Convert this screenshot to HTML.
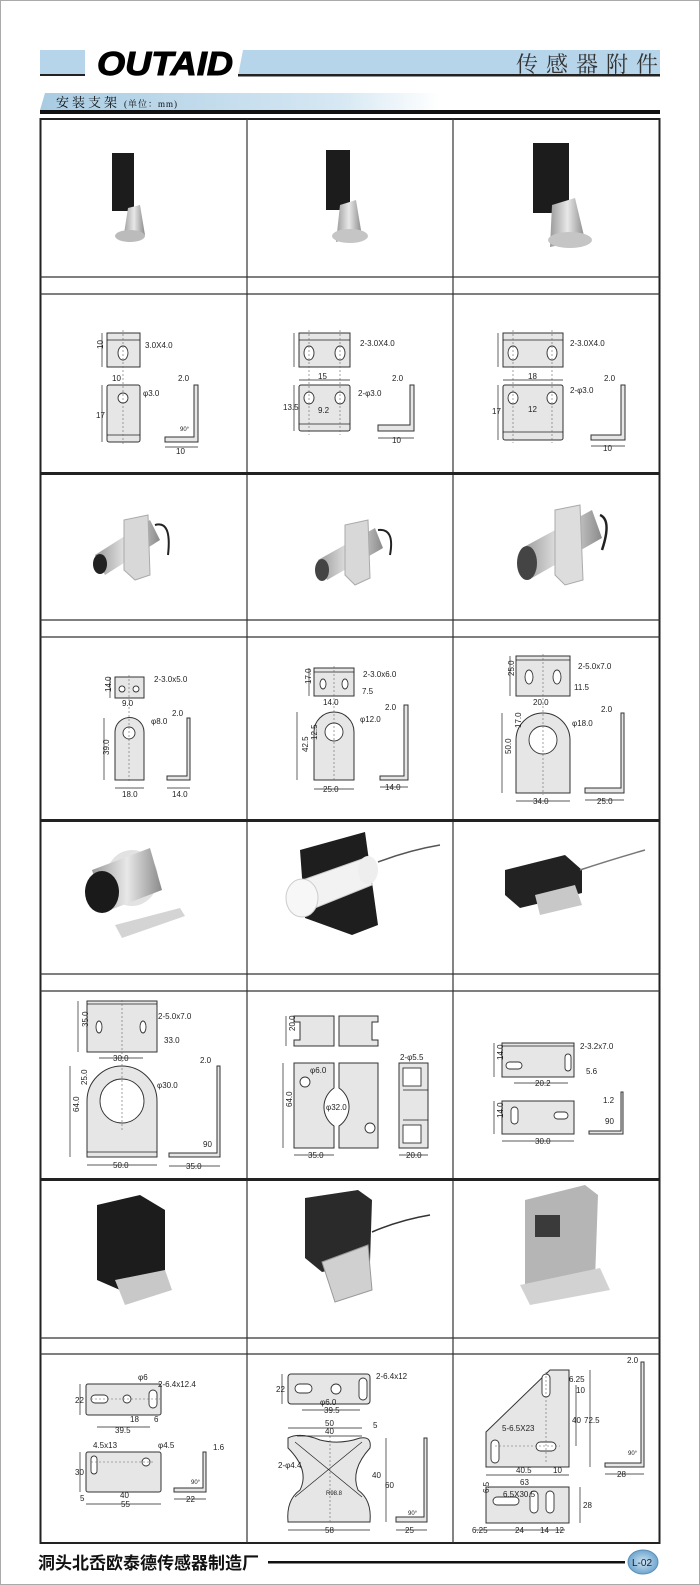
<!DOCTYPE html>
<html><head><meta charset="utf-8"><style>
html,body{margin:0;padding:0;background:#fff;}
svg{display:block}
text{font-family:"Liberation Sans","Noto Sans CJK SC",sans-serif;fill:#222}
.l{font-size:8px}
.p{fill:#e6e6e6;stroke:#333;stroke-width:1}
.h{fill:#fff;stroke:#333;stroke-width:0.9}
.d{stroke:#666;stroke-width:0.6;stroke-dasharray:2 2;fill:none}
.k{stroke:#222;stroke-width:0.7;fill:none}
.s{fill:#bfbfbf}
.b{fill:#1c1c1c}
</style></head><body>
<svg width="700" height="1585" viewBox="0 0 700 1585" xmlns="http://www.w3.org/2000/svg">
<defs>
<linearGradient id="sec" x1="0" x2="1"><stop offset="0" stop-color="#a9cce3"/><stop offset="0.75" stop-color="#d6e8f3"/><stop offset="1" stop-color="#fff"/></linearGradient>
<linearGradient id="met" x1="0" x2="1"><stop offset="0" stop-color="#9a9a9a"/><stop offset="0.5" stop-color="#e8e8e8"/><stop offset="1" stop-color="#8a8a8a"/></linearGradient>
<radialGradient id="bd"><stop offset="0" stop-color="#cfe3f2"/><stop offset="1" stop-color="#6fa6cf"/></radialGradient>
</defs>
<rect x="0.5" y="0.5" width="699" height="1584" fill="#fff" stroke="#aaa"/>
<!-- header -->
<rect x="40" y="50" width="45" height="26" fill="#b7d5ea"/>
<rect x="40" y="74" width="45" height="2" fill="#222"/>
<polygon points="243,50 660,50 660,76 238,76" fill="#b7d5ea"/>
<rect x="238" y="74" width="422" height="2.5" fill="#222"/>
<text x="97" y="75" textLength="136" lengthAdjust="spacingAndGlyphs" style="font-size:33px;font-weight:bold;font-style:italic;fill:#000;stroke:#000;stroke-width:1">OUTAID</text>
<text x="516" y="72" style="font-size:22px;fill:#333;letter-spacing:8px;font-family:'Liberation Serif','Noto Serif CJK SC',serif">传感器附件</text>
<polygon points="45,93 440,93 440,110 40,110" fill="url(#sec)"/>
<text x="56" y="107" style="font-size:13px;font-family:'Liberation Serif','Noto Serif CJK SC',serif;fill:#111;letter-spacing:3px">安装支架</text>
<text x="124" y="107" style="font-size:9px;font-family:'Liberation Serif','Noto Serif CJK SC',serif;fill:#111;letter-spacing:1px">(单位：mm)</text>
<rect x="40" y="110" width="620" height="4" fill="#111"/>
<!-- table -->
<rect x="40.5" y="119" width="619" height="1424" fill="none" stroke="#222" stroke-width="2"/>
<g stroke="#333" stroke-width="1.2">
<line x1="247" y1="119" x2="247" y2="1543"/><line x1="453" y1="119" x2="453" y2="1543"/>
<line x1="40" y1="277" x2="660" y2="277"/><line x1="40" y1="294" x2="660" y2="294"/>
<line x1="40" y1="620" x2="660" y2="620"/><line x1="40" y1="637" x2="660" y2="637"/>
<line x1="40" y1="974" x2="660" y2="974"/><line x1="40" y1="991" x2="660" y2="991"/>
<line x1="40" y1="1338" x2="660" y2="1338"/><line x1="40" y1="1354" x2="660" y2="1354"/>
</g>
<g fill="#222"><rect x="40" y="472" width="620" height="3"/><rect x="40" y="819" width="620" height="3"/><rect x="40" y="1178" width="620" height="3"/></g>

<!-- photos row 1 -->
<rect x="112" y="153" width="22" height="58" class="b"/><polygon points="128,208 140,205 145,235 123,240" fill="url(#met)"/><ellipse cx="130" cy="236" rx="15" ry="6" fill="#bbb"/>
<rect x="326" y="150" width="24" height="60" class="b"/><polygon points="340,205 356,200 362,236 336,242" fill="url(#met)"/><ellipse cx="350" cy="236" rx="18" ry="7" fill="#c5c5c5"/>
<rect x="533" y="143" width="36" height="70" class="b"/><polygon points="552,205 575,198 585,240 550,247" fill="url(#met)"/><ellipse cx="570" cy="240" rx="22" ry="8" fill="#c5c5c5"/>
<!-- photos row 2 -->
<g><polygon points="95,555 150,520 160,540 105,575" fill="url(#met)"/><ellipse cx="100" cy="564" rx="7" ry="10" fill="#222"/><polygon points="124,520 148,515 150,575 135,580 124,570" fill="#d8d8d8" stroke="#aaa"/><path d="M155,525 Q172,520 168,555" stroke="#222" stroke-width="2" fill="none"/></g>
<g><polygon points="318,560 375,528 383,548 327,580" fill="url(#met)"/><ellipse cx="322" cy="570" rx="7" ry="11" fill="#444"/><polygon points="345,525 368,520 370,578 355,585 345,575" fill="#d8d8d8" stroke="#aaa"/><path d="M378,530 Q395,528 390,555" stroke="#222" stroke-width="2" fill="none"/></g>
<g><polygon points="522,548 592,510 602,538 532,578" fill="url(#met)"/><ellipse cx="527" cy="563" rx="10" ry="17" fill="#444"/><polygon points="555,510 580,505 583,580 565,585 555,575" fill="#ddd" stroke="#aaa"/><path d="M600,515 Q612,520 602,550" stroke="#222" stroke-width="2.5" fill="none"/></g>
<!-- photos row 3 -->
<g><ellipse cx="132" cy="878" rx="26" ry="28" fill="#e2e2e2"/><polygon points="92,870 150,848 162,890 105,912" fill="url(#met)"/><ellipse cx="102" cy="892" rx="17" ry="21" fill="#1a1a1a"/><polygon points="115,925 180,908 185,916 122,938" fill="#d4d4d4"/></g>
<g><polygon points="300,850 365,832 378,925 352,935 305,918" fill="#1e1e1e"/><polygon points="297,882 365,858 372,885 305,912" fill="#f2f2f2" stroke="#ccc"/><ellipse cx="302" cy="898" rx="16" ry="19" fill="#f7f7f7" stroke="#ccc"/><ellipse cx="368" cy="870" rx="10" ry="14" fill="#eee"/><path d="M378,862 Q410,850 440,845" stroke="#555" stroke-width="1.5" fill="none"/></g>
<g><polygon points="505,870 565,855 582,870 582,893 520,908 505,895" fill="#222"/><polygon points="535,895 575,885 582,905 540,915" fill="#c8c8c8"/><path d="M580,870 Q610,860 645,850" stroke="#777" stroke-width="1.5" fill="none"/></g>
<!-- photos row 4 -->
<g><polygon points="97,1205 140,1195 165,1210 165,1275 120,1290 97,1280" fill="#1c1c1c"/><polygon points="115,1280 165,1270 172,1290 125,1305" fill="#c8c8c8"/></g>
<g><polygon points="305,1198 358,1190 372,1200 370,1262 322,1272 305,1258" fill="#2a2a2a"/><polygon points="322,1262 368,1245 372,1290 335,1302" fill="#d0d0d0" stroke="#999"/><path d="M372,1232 Q400,1220 430,1215" stroke="#333" stroke-width="1.5" fill="none"/></g>
<g><polygon points="525,1200 585,1185 598,1195 595,1280 540,1295 525,1285" fill="#b5b5b5"/><rect x="535" y="1215" width="25" height="22" fill="#3a3a3a"/><polygon points="520,1285 600,1268 610,1290 530,1305" fill="#d2d2d2"/></g>

<!-- drawing row 1 -->
<g>
<rect x="107" y="333" width="33" height="34" class="p"/><line x1="107" y1="340" x2="140" y2="340" class="k"/><ellipse cx="123" cy="353" rx="5" ry="7" class="h"/>
<rect x="107" y="385" width="33" height="57" rx="2" class="p"/><line x1="107" y1="435" x2="140" y2="435" class="k"/><ellipse cx="123" cy="398" rx="5" ry="5" class="h"/>
<line x1="123" y1="330" x2="123" y2="445" class="d"/>
<path d="M194,385 h4 v57 h-33 v-5 h29 z" class="p"/>
<text x="145" y="348" class="l">3.0X4.0</text><text x="112" y="381" class="l">10</text><text x="143" y="396" class="l">φ3.0</text>
<text x="96" y="418" class="l">17</text><text x="178" y="381" class="l">2.0</text><text x="176" y="454" class="l">10</text><text x="180" y="431" class="l" style="font-size:6px">90°</text>
<text x="104" y="354" class="l" transform="rotate(-90 101 352)">10</text>
<line x1="102" y1="333" x2="102" y2="367" class="k"/><line x1="102" y1="385" x2="102" y2="442" class="k"/><line x1="165" y1="447" x2="198" y2="447" class="k"/>
</g>
<g>
<rect x="299" y="333" width="51" height="34" class="p"/><line x1="299" y1="340" x2="350" y2="340" class="k"/><ellipse cx="309" cy="353" rx="5" ry="7" class="h"/><ellipse cx="340" cy="353" rx="5" ry="7" class="h"/>
<rect x="299" y="385" width="51" height="46" rx="2" class="p"/><line x1="299" y1="424" x2="350" y2="424" class="k"/><ellipse cx="309" cy="398" rx="5" ry="6" class="h"/><ellipse cx="340" cy="398" rx="5" ry="6" class="h"/>
<line x1="309" y1="330" x2="309" y2="435" class="d"/><line x1="340" y1="330" x2="340" y2="435" class="d"/>
<path d="M410,385 h4 v46 h-36 v-6 h32 z" class="p"/>
<line x1="294" y1="333" x2="294" y2="367" class="k"/><line x1="294" y1="385" x2="294" y2="431" class="k"/><line x1="299" y1="380" x2="350" y2="380" class="k"/><line x1="378" y1="438" x2="414" y2="438" class="k"/>
<text x="360" y="346" class="l">2-3.0X4.0</text><text x="318" y="379" class="l">15</text><text x="358" y="396" class="l">2-φ3.0</text>
<text x="283" y="410" class="l">13.5</text><text x="318" y="413" class="l">9.2</text><text x="392" y="381" class="l">2.0</text><text x="392" y="443" class="l">10</text>
</g>
<g>
<rect x="503" y="333" width="60" height="34" class="p"/><line x1="503" y1="340" x2="563" y2="340" class="k"/><ellipse cx="513" cy="353" rx="5" ry="7" class="h"/><ellipse cx="552" cy="353" rx="5" ry="7" class="h"/>
<rect x="503" y="385" width="60" height="55" rx="2" class="p"/><line x1="503" y1="432" x2="563" y2="432" class="k"/><ellipse cx="513" cy="398" rx="5" ry="6" class="h"/><ellipse cx="552" cy="398" rx="5" ry="6" class="h"/>
<line x1="513" y1="330" x2="513" y2="443" class="d"/><line x1="552" y1="330" x2="552" y2="443" class="d"/>
<path d="M621,385 h4 v55 h-34 v-5 h30 z" class="p"/>
<line x1="498" y1="333" x2="498" y2="367" class="k"/><line x1="498" y1="385" x2="498" y2="440" class="k"/><line x1="503" y1="380" x2="563" y2="380" class="k"/><line x1="591" y1="446" x2="625" y2="446" class="k"/>
<text x="570" y="346" class="l">2-3.0X4.0</text><text x="528" y="379" class="l">18</text><text x="570" y="393" class="l">2-φ3.0</text>
<text x="492" y="414" class="l">17</text><text x="528" y="412" class="l">12</text><text x="604" y="381" class="l">2.0</text><text x="603" y="451" class="l">10</text>
</g>

<!-- drawing row 2 -->
<g>
<rect x="115" y="677" width="29" height="21" class="p"/><circle cx="122" cy="689" r="3" class="h"/><circle cx="136" cy="689" r="3" class="h"/>
<path d="M115,780 V732 a14.5,14.5 0 0 1 29,0 V780 z" class="p"/><circle cx="129" cy="733" r="6" class="h"/><line x1="129" y1="675" x2="129" y2="782" class="d"/>
<path d="M187,718 h3 v62 h-23 v-4 h20 z" class="p"/>
<line x1="110" y1="677" x2="110" y2="698" class="k"/><line x1="104" y1="718" x2="104" y2="780" class="k"/><line x1="115" y1="788" x2="144" y2="788" class="k"/><line x1="167" y1="788" x2="190" y2="788" class="k"/>
<text x="154" y="682" class="l">2-3.0x5.0</text><text x="122" y="706" class="l">9.0</text><text x="151" y="724" class="l">φ8.0</text>
<text x="122" y="797" class="l">18.0</text><text x="172" y="716" class="l">2.0</text><text x="172" y="797" class="l">14.0</text>
<text x="107" y="696" class="l" transform="rotate(-90 107 692)">14.0</text><text x="104" y="760" class="l" transform="rotate(-90 104 755)">39.0</text>
</g>
<g>
<rect x="314" y="668" width="40" height="28" class="p"/><line x1="314" y1="672" x2="354" y2="672" class="k"/><ellipse cx="323" cy="684" rx="3" ry="5" class="h"/><ellipse cx="345" cy="684" rx="3" ry="5" class="h"/>
<path d="M314,780 V732 a20,20 0 0 1 40,0 V780 z" class="p"/><circle cx="334" cy="732" r="9" class="h"/><line x1="334" y1="666" x2="334" y2="782" class="d"/>
<path d="M404,705 h4 v75 h-28 v-4 h24 z" class="p"/>
<line x1="297" y1="712" x2="297" y2="780" class="k"/><line x1="309" y1="668" x2="309" y2="696" class="k"/><line x1="314" y1="789" x2="354" y2="789" class="k"/><line x1="380" y1="787" x2="408" y2="787" class="k"/>
<text x="363" y="677" class="l">2-3.0x6.0</text><text x="362" y="694" class="l">7.5</text><text x="323" y="705" class="l">14.0</text>
<text x="360" y="722" class="l">φ12.0</text><text x="323" y="792" class="l">25.0</text><text x="385" y="710" class="l">2.0</text><text x="385" y="790" class="l">14.0</text>
<text x="300" y="760" class="l" transform="rotate(-90 300 752)">42.5</text><text x="312" y="745" class="l" transform="rotate(-90 312 740)">12.5</text>
<text x="305" y="690" class="l" transform="rotate(-90 305 684)">17.0</text>
</g>
<g>
<rect x="516" y="656" width="54" height="40" class="p"/><line x1="516" y1="660" x2="570" y2="660" class="k"/><ellipse cx="529" cy="677" rx="4" ry="7" class="h"/><ellipse cx="557" cy="677" rx="4" ry="7" class="h"/>
<path d="M516,793 V740 a27,27 0 0 1 54,0 V793 z" class="p"/><circle cx="543" cy="740" r="14" class="h"/><line x1="543" y1="654" x2="543" y2="795" class="d"/>
<path d="M621,713 h3 v80 h-39 v-5 h36 z" class="p"/>
<line x1="510" y1="656" x2="510" y2="696" class="k"/><line x1="502" y1="713" x2="502" y2="793" class="k"/><line x1="516" y1="801" x2="570" y2="801" class="k"/><line x1="585" y1="800" x2="624" y2="800" class="k"/>
<text x="578" y="669" class="l">2-5.0x7.0</text><text x="574" y="690" class="l">11.5</text><text x="533" y="705" class="l">20.0</text>
<text x="572" y="726" class="l">φ18.0</text><text x="533" y="804" class="l">34.0</text><text x="601" y="712" class="l">2.0</text><text x="597" y="804" class="l">25.0</text>
<text x="508" y="682" class="l" transform="rotate(-90 508 676)">25.0</text><text x="515" y="734" class="l" transform="rotate(-90 515 728)">17.0</text><text x="505" y="760" class="l" transform="rotate(-90 505 754)">50.0</text>
</g>

<!-- drawing row 3 -->
<g>
<rect x="87" y="1001" width="70" height="51" class="p"/><line x1="87" y1="1004" x2="157" y2="1004" class="k"/><ellipse cx="99" cy="1027" rx="3" ry="6" class="h"/><ellipse cx="143" cy="1027" rx="3" ry="6" class="h"/>
<path d="M87,1157 V1101 a35,35 0 0 1 70,0 V1157 z" class="p"/><circle cx="122" cy="1101" r="22" class="h"/><line x1="87" y1="1152" x2="157" y2="1152" class="k"/><line x1="122" y1="1000" x2="122" y2="1130" class="d"/>
<path d="M217,1066 h3 v91 h-51 v-4 h48 z" class="p"/>
<line x1="78" y1="1001" x2="78" y2="1052" class="k"/><line x1="70" y1="1066" x2="70" y2="1157" class="k"/><line x1="87" y1="1165" x2="157" y2="1165" class="k"/><line x1="169" y1="1166" x2="220" y2="1166" class="k"/><line x1="99" y1="1058" x2="143" y2="1058" class="k"/>
<text x="158" y="1019" class="l">2-5.0x7.0</text><text x="164" y="1043" class="l">33.0</text><text x="113" y="1061" class="l">30.0</text>
<text x="200" y="1063" class="l">2.0</text><text x="157" y="1088" class="l">φ30.0</text><text x="203" y="1147" class="l">90</text><text x="113" y="1168" class="l">50.0</text><text x="186" y="1169" class="l">35.0</text>
<text x="82" y="1033" class="l" transform="rotate(-90 82 1027)">35.0</text><text x="81" y="1091" class="l" transform="rotate(-90 81 1085)">25.0</text><text x="73" y="1118" class="l" transform="rotate(-90 73 1112)">64.0</text>
</g>
<g>
<path d="M294,1016 h40 v30 h-40 v-6 h6 v-18 h-6 z" class="p"/><path d="M339,1016 h39 v6 h-6 v18 h6 v6 h-39 z" class="p"/>
<path d="M294,1063 h40 v25 a23,23 0 0 0 0,38 v22 h-40 z" class="p"/><path d="M339,1063 h39 v85 h-39 v-22 a23,23 0 0 0 0,-38 z" class="p"/>
<circle cx="305" cy="1082" r="5" class="h"/><circle cx="370" cy="1128" r="5" class="h"/>
<rect x="399" y="1063" width="29" height="85" class="p"/><rect x="403" y="1068" width="18" height="18" class="h"/><rect x="403" y="1125" width="18" height="18" class="h"/><line x1="403" y1="1090" x2="428" y2="1090" class="k"/><line x1="403" y1="1120" x2="428" y2="1120" class="k"/>
<line x1="286" y1="1016" x2="286" y2="1046" class="k"/><line x1="283" y1="1063" x2="283" y2="1148" class="k"/><line x1="294" y1="1155" x2="334" y2="1155" class="k"/><line x1="399" y1="1155" x2="428" y2="1155" class="k"/>
<text x="400" y="1060" class="l">2-φ5.5</text><text x="310" y="1073" class="l">φ6.0</text><text x="326" y="1110" class="l">φ32.0</text>
<text x="308" y="1158" class="l">35.0</text><text x="406" y="1158" class="l">20.0</text>
<text x="289" y="1037" class="l" transform="rotate(-90 289 1031)">20.0</text><text x="286" y="1113" class="l" transform="rotate(-90 286 1107)">64.0</text>
</g>
<g>
<rect x="502" y="1043" width="72" height="34" class="p"/><line x1="502" y1="1046" x2="574" y2="1046" class="k"/><rect x="506" y="1062" width="16" height="7" rx="3.5" class="h"/><rect x="565" y="1054" width="6" height="17" rx="3" class="h"/>
<rect x="502" y="1101" width="72" height="33" class="p"/><rect x="511" y="1107" width="7" height="17" rx="3.5" class="h"/><rect x="554" y="1112" width="14" height="7" rx="3.5" class="h"/>
<path d="M621,1092 h2 v42 h-34 v-3 h32 z" class="p"/>
<line x1="494" y1="1043" x2="494" y2="1077" class="k"/><line x1="494" y1="1101" x2="494" y2="1134" class="k"/><line x1="514" y1="1083" x2="568" y2="1083" class="k"/><line x1="502" y1="1141" x2="574" y2="1141" class="k"/>
<text x="580" y="1049" class="l">2-3.2x7.0</text><text x="586" y="1074" class="l">5.6</text><text x="535" y="1086" class="l">20.2</text>
<text x="603" y="1103" class="l">1.2</text><text x="605" y="1124" class="l">90</text><text x="535" y="1144" class="l">30.0</text>
<text x="497" y="1066" class="l" transform="rotate(-90 497 1060)">14.0</text><text x="497" y="1124" class="l" transform="rotate(-90 497 1118)">14.0</text>
</g>

<!-- drawing row 4 -->
<g>
<rect x="86" y="1384" width="75" height="31" rx="2" class="p"/><rect x="91" y="1395" width="17" height="8" rx="4" class="h"/><circle cx="127" cy="1399" r="4" class="h"/><rect x="149" y="1390" width="8" height="18" rx="4" class="h"/>
<line x1="91" y1="1399" x2="160" y2="1399" class="d"/>
<rect x="86" y="1452" width="75" height="40" rx="2" class="p"/><rect x="91" y="1456" width="6" height="18" rx="3" class="h"/><circle cx="146" cy="1462" r="4" class="h"/><line x1="91" y1="1462" x2="155" y2="1462" class="d"/>
<path d="M203,1452 h3 v40 h-32 v-4 h29 z" class="p"/>
<line x1="80" y1="1384" x2="80" y2="1415" class="k"/><line x1="80" y1="1452" x2="80" y2="1492" class="k"/><line x1="97" y1="1427" x2="150" y2="1427" class="k"/><line x1="86" y1="1504" x2="161" y2="1504" class="k"/><line x1="174" y1="1499" x2="206" y2="1499" class="k"/>
<text x="138" y="1380" class="l">φ6</text><text x="158" y="1387" class="l">2-6.4x12.4</text><text x="75" y="1403" class="l">22</text><text x="130" y="1422" class="l">18</text><text x="154" y="1422" class="l">6</text>
<text x="115" y="1433" class="l">39.5</text><text x="93" y="1448" class="l">4.5x13</text><text x="158" y="1448" class="l">φ4.5</text><text x="213" y="1450" class="l">1.6</text>
<text x="75" y="1475" class="l">30</text><text x="80" y="1501" class="l">5</text><text x="120" y="1498" class="l">40</text><text x="121" y="1507" class="l">55</text><text x="191" y="1484" class="l" style="font-size:6px">90°</text><text x="186" y="1502" class="l">22</text>
</g>
<g>
<rect x="288" y="1374" width="82" height="30" rx="3" class="p"/><rect x="295" y="1384" width="17" height="9" rx="4.5" class="h"/><circle cx="336" cy="1389" r="5" class="h"/><rect x="359" y="1378" width="8" height="22" rx="4" class="h"/>
<path d="M288,1438 Q300,1432 320,1440 Q340,1445 360,1438 Q372,1436 370,1448 Q350,1470 358,1490 Q372,1500 370,1522 H288 Q286,1500 300,1490 Q310,1470 288,1448 z" class="p"/>
<line x1="295" y1="1442" x2="362" y2="1497" class="k"/><line x1="362" y1="1442" x2="295" y2="1497" class="k"/><line x1="330" y1="1436" x2="330" y2="1522" class="d"/>
<path d="M424,1438 h3 v84 h-31 v-5 h28 z" class="p"/>
<line x1="282" y1="1374" x2="282" y2="1404" class="k"/><line x1="302" y1="1410" x2="360" y2="1410" class="k"/><line x1="288" y1="1428" x2="362" y2="1428" class="k"/><line x1="297" y1="1436" x2="362" y2="1436" class="k"/><line x1="386" y1="1438" x2="386" y2="1522" class="k"/><line x1="288" y1="1530" x2="370" y2="1530" class="k"/><line x1="396" y1="1530" x2="427" y2="1530" class="k"/>
<text x="376" y="1379" class="l">2-6.4x12</text><text x="276" y="1392" class="l">22</text><text x="320" y="1405" class="l">φ6.0</text><text x="324" y="1413" class="l">39.5</text>
<text x="325" y="1426" class="l">50</text><text x="325" y="1434" class="l">40</text><text x="373" y="1428" class="l">5</text><text x="278" y="1468" class="l">2-φ4.4</text>
<text x="372" y="1478" class="l">40</text><text x="385" y="1488" class="l">60</text><text x="326" y="1495" class="l" style="font-size:6px">R98.8</text><text x="325" y="1533" class="l">58</text><text x="405" y="1533" class="l">25</text><text x="408" y="1515" class="l" style="font-size:6px">90°</text>
</g>
<g>
<polygon points="486,1432 550,1370 569,1370 569,1467 486,1467" class="p"/><rect x="542" y="1374" width="8" height="23" rx="4" class="h"/><rect x="491" y="1440" width="8" height="23" rx="4" class="h"/><rect x="536" y="1442" width="20" height="9" rx="4.5" class="h"/>
<line x1="546" y1="1372" x2="546" y2="1462" class="d"/><line x1="495" y1="1446" x2="560" y2="1446" class="d"/>
<rect x="486" y="1487" width="83" height="36" class="p"/><rect x="493" y="1497" width="26" height="8" rx="4" class="h"/><rect x="530" y="1491" width="8" height="22" rx="4" class="h"/><rect x="546" y="1491" width="8" height="22" rx="4" class="h"/>
<path d="M641,1362 h3 v105 h-39 v-4 h36 z" class="p"/>
<line x1="590" y1="1370" x2="590" y2="1467" class="k"/><line x1="576" y1="1385" x2="576" y2="1446" class="k"/><line x1="486" y1="1475" x2="569" y2="1475" class="k"/><line x1="580" y1="1487" x2="580" y2="1523" class="k"/><line x1="605" y1="1474" x2="644" y2="1474" class="k"/><line x1="476" y1="1530" x2="565" y2="1530" class="k"/>
<text x="627" y="1363" class="l">2.0</text><text x="569" y="1382" class="l">6.25</text><text x="576" y="1393" class="l">10</text><text x="572" y="1423" class="l">40</text><text x="584" y="1423" class="l">72.5</text>
<text x="502" y="1431" class="l">5-6.5X23</text><text x="516" y="1473" class="l">40.5</text><text x="553" y="1473" class="l">10</text><text x="520" y="1485" class="l">63</text><text x="617" y="1477" class="l">28</text>
<text x="503" y="1497" class="l">6.5X30.5</text><text x="583" y="1508" class="l">28</text><text x="472" y="1533" class="l">6.25</text><text x="515" y="1533" class="l">24</text><text x="540" y="1533" class="l">14</text><text x="555" y="1533" class="l">12</text>
<text x="484" y="1498" class="l" transform="rotate(-90 484 1493)">6.5</text><text x="628" y="1455" class="l" style="font-size:6px">90°</text>
</g>

<!-- footer -->
<text x="38" y="1569" style="font-size:17px;font-weight:bold;fill:#111;font-family:'Liberation Sans','Noto Sans CJK SC',sans-serif">洞头北岙欧泰德传感器制造厂</text>
<rect x="268" y="1561" width="357" height="2.5" fill="#111"/>
<ellipse cx="643" cy="1562" rx="15" ry="12" fill="url(#bd)" stroke="#5a8fb8"/>
<text x="632" y="1566" style="font-size:10px;fill:#123">L-02</text>
</svg>
</body></html>
